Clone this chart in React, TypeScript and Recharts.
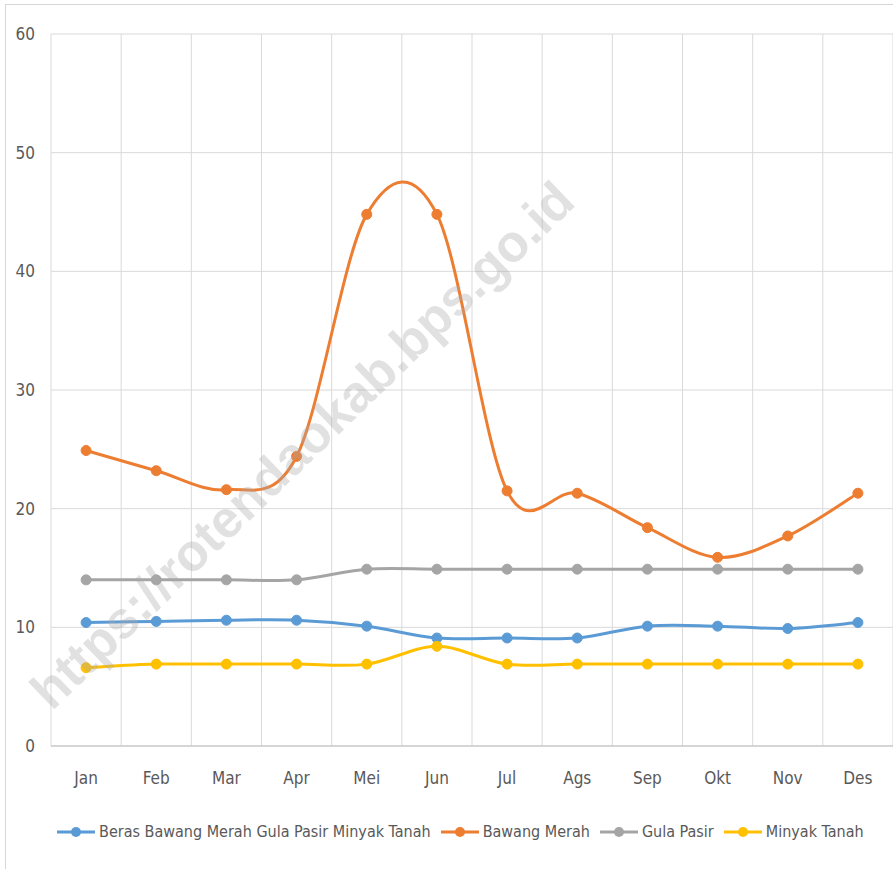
import { LineChart, Line, XAxis, YAxis, CartesianGrid, Legend } from "recharts";

const months = ["Jan", "Feb", "Mar", "Apr", "Mei", "Jun", "Jul", "Ags", "Sep", "Okt", "Nov", "Des"];
const beras = [10.4, 10.5, 10.6, 10.6, 10.1, 9.1, 9.1, 9.1, 10.1, 10.1, 9.9, 10.4];
const bawangMerah = [24.9, 23.2, 21.6, 24.4, 44.8, 44.8, 21.5, 21.3, 18.4, 15.9, 17.7, 21.3];
const gulaPasir = [14, 14, 14, 14, 14.9, 14.9, 14.9, 14.9, 14.9, 14.9, 14.9, 14.9];
const minyakTanah = [6.6, 6.9, 6.9, 6.9, 6.9, 8.4, 6.9, 6.9, 6.9, 6.9, 6.9, 6.9];
const yTicks = [0, 10, 20, 30, 40, 50, 60];

const series = [
  { key: "beras", name: "Beras Bawang Merah Gula Pasir Minyak Tanah", color: "#5B9BD5" },
  { key: "bawangMerah", name: "Bawang Merah", color: "#ED7D31" },
  { key: "gulaPasir", name: "Gula Pasir", color: "#A5A5A5" },
  { key: "minyakTanah", name: "Minyak Tanah", color: "#FFC000" },
];

const data = months.map((m, i) => ({
  idx: i,
  month: m,
  beras: beras[i],
  bawangMerah: bawangMerah[i],
  gulaPasir: gulaPasir[i],
  minyakTanah: minyakTanah[i],
}));

const monthTicks = months.map((_, i) => i);
// gridlines sit between categories, like excel
const gridTicks = [...months.map((_, i) => i - 0.5), months.length - 0.5];

const font = "'Liberation Sans Narrow', 'DejaVu Sans Condensed', 'DejaVu Sans', sans-serif";
const textColor = "#595959";
const tickStyle = { fill: textColor, fontSize: 17, fontFamily: font, fontStretch: "condensed" };

// excel style smoothing (catmull-rom, 1/6 handles)
const excelSmooth = (ctx: any) => {
  let pts: [number, number][] = [];
  return {
    areaStart() {},
    areaEnd() {},
    lineStart() {
      pts = [];
    },
    point(x: number, y: number) {
      pts.push([+x, +y]);
    },
    lineEnd() {
      if (!pts.length) return;
      ctx.moveTo(pts[0][0], pts[0][1]);
      for (let i = 0; i < pts.length - 1; i++) {
        const p0 = pts[Math.max(i - 1, 0)];
        const p1 = pts[i];
        const p2 = pts[i + 1];
        const p3 = pts[Math.min(i + 2, pts.length - 1)];
        ctx.bezierCurveTo(
          p1[0] + (p2[0] - p0[0]) / 6,
          p1[1] + (p2[1] - p0[1]) / 6,
          p2[0] - (p3[0] - p1[0]) / 6,
          p2[1] - (p3[1] - p1[1]) / 6,
          p2[0],
          p2[1]
        );
      }
    },
  };
};

const renderLegend = () => (
  <div
    style={{
      display: "flex",
      alignItems: "center",
      whiteSpace: "nowrap",
      fontFamily: font,
      fontStretch: "condensed",
      fontSize: 16,
      color: textColor,
    }}
  >
    {series.map((s) => (
      <div key={s.key} style={{ display: "flex", alignItems: "center", marginRight: 10 }}>
        <svg width={38} height={12}>
          <line x1={0} y1={6} x2={38} y2={6} stroke={s.color} strokeWidth={3} />
          <circle cx={19} cy={6} r={5} fill={s.color} />
        </svg>
        <span style={{ marginLeft: 4 }}>{s.name}</span>
      </div>
    ))}
  </div>
);

export default function App() {
  return (
    <div
      style={{
        position: "fixed",
        left: 0,
        top: 0,
        width: 893,
        height: 869,
        background: "#fff",
        overflow: "hidden",
      }}
    >
      <div
        style={{
          position: "absolute",
          left: 5,
          top: 4,
          width: 900,
          height: 900,
          borderTop: "1px solid #d6d6d6",
          borderLeft: "1px solid #d6d6d6",
        }}
      />
      <LineChart width={893} height={869} data={data} margin={{ top: 34, right: 0, left: 11, bottom: 39 }}>
        <CartesianGrid xAxisId="grid" stroke="#d9d9d9" strokeWidth={1} />
        <XAxis
          xAxisId="grid"
          type="number"
          dataKey="idx"
          domain={[-0.5, months.length - 0.5]}
          ticks={gridTicks}
          hide
        />
        <XAxis
          xAxisId="cat"
          type="number"
          dataKey="idx"
          domain={[-0.5, months.length - 0.5]}
          ticks={monthTicks}
          tickFormatter={(v: number) => months[v]}
          interval={0}
          height={60}
          tickLine={false}
          tickSize={0}
          tickMargin={26}
          axisLine={{ stroke: "#bfbfbf", strokeWidth: 1 }}
          tick={tickStyle}
        />
        <YAxis
          domain={[0, 60]}
          ticks={yTicks}
          width={40}
          axisLine={false}
          tickLine={false}
          tickSize={0}
          tickMargin={16}
          tick={tickStyle}
        />
        <Legend content={renderLegend} wrapperStyle={{ left: 57, top: 822, height: 24, width: 836 }} />
        {series.map((s) => (
          <Line
            key={s.key}
            xAxisId="cat"
            dataKey={s.key}
            name={s.name}
            stroke={s.color}
            strokeWidth={3}
            type={excelSmooth as any}
            dot={{ r: 5, fill: s.color, stroke: s.color, strokeWidth: 1 }}
            activeDot={false}
            isAnimationActive={false}
          />
        ))}
      </LineChart>
      <div
        style={{
          position: "absolute",
          left: 302,
          top: 445,
          transform: "translate(-50%, -50%) rotate(-44deg)",
          whiteSpace: "nowrap",
          fontFamily: "'Liberation Sans', Arial, sans-serif",
          fontWeight: "bold",
          fontSize: 52,
          color: "rgba(170,170,170,0.35)",
          pointerEvents: "none",
        }}
      >
        https://rotendaokab.bps.go.id
      </div>
    </div>
  );
}
